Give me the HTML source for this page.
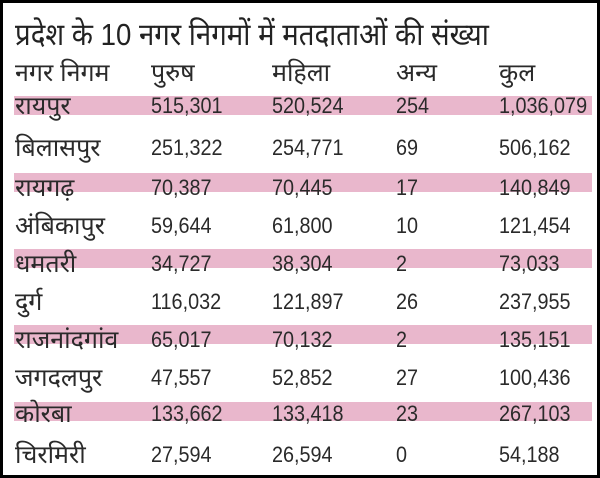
<!DOCTYPE html>
<html><head><meta charset="utf-8"><style>
body{margin:0;width:600px;height:478px;background:#fff;overflow:hidden}
.frame{position:absolute;left:0;top:0;width:594px;height:472px;border:3px solid #000;background:#fff}
.t{position:absolute;font-family:"Liberation Sans",sans-serif;color:#2a2a2a;white-space:nowrap;font-size:22px;line-height:22px;transform:scaleX(.9);transform-origin:left}
.d{font-size:25px;line-height:26px;transform:scaleX(1.0);transform-origin:left}
.band{position:absolute;left:14px;width:578px;height:19px;background:#e9b7cc}
.title{font-size:31px;line-height:34px;color:#222;top:18px;left:15px;transform:scaleX(.89);transform-origin:left}
</style></head><body>
<div class="frame"></div>
<div class="band" style="top:96px"></div>
<div class="band" style="top:173px"></div>
<div class="band" style="top:249px"></div>
<div class="band" style="top:325px"></div>
<div class="band" style="top:402px"></div>
<div class="t title">प्रदेश के 10 नगर निगमों में मतदाताओं की संख्या</div>
<div id="rows"></div>
<script>
const rows=[
["नगर निगम","पुरुष","महिला","अन्य","कुल",73],
["रायपुर","515,301","520,524","254","1,036,079",106],
["बिलासपुर","251,322","254,771","69","506,162",148],
["रायगढ़","70,387","70,445","17","140,849",188],
["अंबिकापुर","59,644","61,800","10","121,454",226],
["धमतरी","34,727","38,304","2","73,033",264],
["दुर्ग","116,032","121,897","26","237,955",302],
["राजनांदगांव","65,017","70,132","2","135,151",340],
["जगदलपुर","47,557","52,852","27","100,436",378],
["कोरबा","133,662","133,418","23","267,103",414],
["चिरमिरी","27,594","26,594","0","54,188",455]];
const xs=[15,151,272,396,499];
let h='',first=true;
for(const r of rows){for(let i=0;i<5;i++){const dev=(i==0||first);const off=dev?13:11;h+=`<div class="t${dev?' d':''}" style="left:${xs[i]}px;top:${r[5]-off}px">${r[i]}</div>`}first=false}
document.getElementById('rows').innerHTML=h;
</script>
</body></html>
